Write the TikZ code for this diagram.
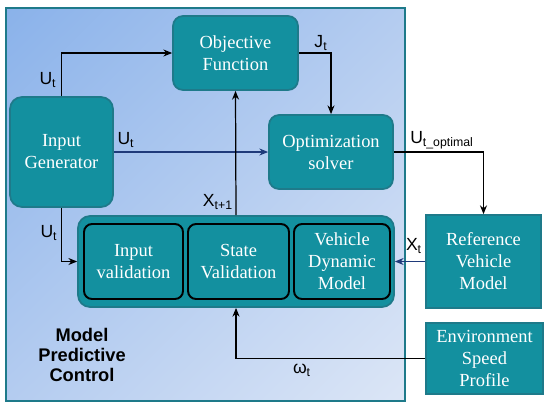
\documentclass[tikz,border=0pt]{standalone}
\usepackage{fontspec}
\setmainfont{Liberation Serif}
\setsansfont{Liberation Sans}
\usetikzlibrary{arrows.meta,shadings}

\definecolor{tealbox}{HTML}{13909F}
\definecolor{tealedge}{HTML}{1E7A8A}
\definecolor{bgdark}{HTML}{8AB2EA}
\definecolor{bgmid}{HTML}{B4CCF0}
\definecolor{bglight}{HTML}{DCE6F6}
\definecolor{navy}{HTML}{1F3A7A}

\begin{document}
\begin{tikzpicture}[x=0.02cm, y=-0.02cm, >={Stealth[length=5pt,width=4pt]},
    block/.style={draw=tealedge, line width=1pt, fill=tealbox, text=white, rounded corners=0.2cm,
        align=center, font=\fontsize{10.5}{12.5}\selectfont, inner sep=0pt},
    sqblock/.style={block, rounded corners=0pt},
    inblock/.style={block, draw=black, line width=1.1pt, rounded corners=0.16cm},
    wire/.style={->, line width=0.7pt},
    lbl/.style={font=\sffamily\fontsize{10}{11}\selectfont, inner sep=0pt}]
	\useasboundingbox (0,0) rectangle (550,410);
	% model predictive control frame
	\shade[upper left=bgdark, upper right=bgmid, lower left=bgmid, lower right=bglight] (6,8) rectangle (405,401);
	\draw[tealedge, line width=1.2pt] (6,8) rectangle (405,401);
	\node[font=\sffamily\bfseries\fontsize{10.4}{12}\selectfont, align=center] (mpc) at (82,355) {Model\\[-0.5pt]Predictive\\[-0.5pt]Control};

	% blocks
	\node[block, minimum width=2.5cm, minimum height=1.48cm] (obj) at (235.5,53) {Objective\\Function};
	\node[block, rounded corners=0.24cm, minimum width=2.06cm, minimum height=2.2cm] (gen) at (61.5,152) {Input\\Generator};
	\node[block, minimum width=2.48cm, minimum height=1.48cm] (opt) at (331,152) {Optimization\\solver};
	\node[block, draw=tealedge, rounded corners=0.24cm, minimum width=6.32cm, minimum height=1.82cm] (sim) at (236,261.5) {};
	\node[inblock, minimum width=1.98cm, minimum height=1.5cm] (inval) at (133.5,261.5) {Input\\validation};
	\node[inblock, minimum width=2.02cm, minimum height=1.5cm] (stval) at (238.5,261.5) {State\\Validation};
	\node[inblock, minimum width=1.92cm, minimum height=1.5cm] (vdm) at (342,261.5) {Vehicle\\Dynamic\\Model};
	\node[sqblock, minimum width=2.3cm, minimum height=1.86cm] (ref) at (483.5,261.5) {Reference\\Vehicle\\Model};
	\node[sqblock, minimum width=2.34cm, minimum height=1.42cm] (env) at (484.5,358.5) {Environment\\Speed\\Profile};

	% connections
	\draw[wire] (gen.north) |- (obj.west);
	\draw[wire, navy] (gen.east) -- (opt.west);
	\draw[wire] (obj.east) -| (opt.north);
	\draw[wire] (opt.east) -| (ref.north);
	\draw[wire] (sim.north) -- (obj.south);
	\draw[wire] (gen.south) |- (sim.west);
	\draw[wire, navy] (ref.west) -- (sim.east);
	\draw[wire] (env.west) -| (sim.south);

	% signal labels
	\node[lbl] (u1) at (48,80) {U\textsubscript{t}};
	\node[lbl] (u2) at (126,140) {U\textsubscript{t}};
	\node[lbl] (u3) at (49,233) {U\textsubscript{t}};
	\node[lbl] (jt) at (321,43) {J\textsubscript{t}};
	\node[lbl] (uopt) at (442,140) {U\textsubscript{t\_optimal}};
	\node[lbl] (xn) at (218,202) {X\textsubscript{t+1}};
	\node[lbl] (xt) at (414,246) {X\textsubscript{t}};
	\node[lbl] (wt) at (302,370) {ω\textsubscript{t}};
\end{tikzpicture}
\end{document}
